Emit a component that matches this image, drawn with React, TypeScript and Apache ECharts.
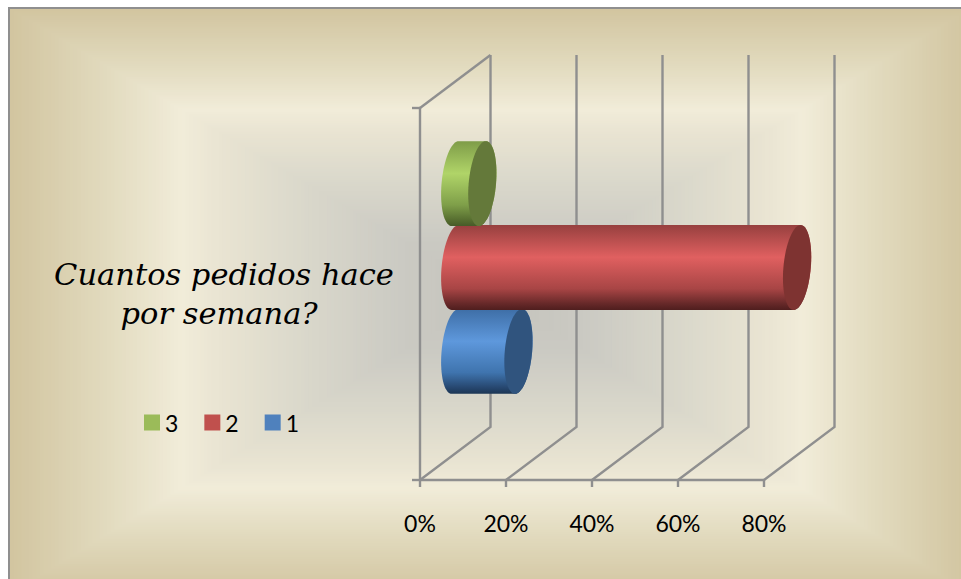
import React, { useEffect, useRef } from "react";
import * as echarts from "echarts";

const question = "Cuantos pedidos hace\npor semana? ";
const axisTicks = [0, 0.2, 0.4, 0.6, 0.8];
const legendOrder = ["3", "2", "1"];
const answerOne = [0.147];
const answerTwo = [0.795];
const answerThree = [0.063];

const DEPTH_X = 70.5;
const DEPTH_Y = 53;
const AXIS_GREY = "#8f8f8f";
const SERIF = "'DejaVu Serif', serif";
const SANS = "Lato, 'Open Sans', sans-serif";

type Palette = { swatch: string; face: string; stops: [number, string][] };

const blue: Palette = {
  swatch: "#4f81bd",
  face: "#30547e",
  stops: [[0, "#3e6ea6"], [0.38, "#5e98dc"], [0.75, "#3f74ae"], [0.93, "#26466e"], [1, "#1c3654"]],
};
const red: Palette = {
  swatch: "#c0504d",
  face: "#7e3331",
  stops: [[0, "#97403f"], [0.38, "#e06060"], [0.75, "#a84545"], [0.93, "#652828"], [1, "#4f1e1e"]],
};
const green: Palette = {
  swatch: "#9bbb59",
  face: "#64793a",
  stops: [[0, "#7e9c48"], [0.38, "#b0d468"], [0.75, "#7f9f49"], [0.93, "#566d30"], [1, "#475a28"]],
};

// Sheared half ellipse running from the top of a cylinder section to its bottom.
function halfEllipse(cx: number, cy: number, side: 1 | -1, rx: number, ry: number, shear: number) {
  const pts: number[][] = [];
  const steps = 36;
  for (let i = 0; i <= steps; i++) {
    const a = -Math.PI / 2 + (Math.PI * i) / steps;
    pts.push([cx + side * rx * Math.cos(a) - shear * Math.sin(a), cy + ry * Math.sin(a)]);
  }
  return pts;
}

function cylinderSeries(name: string, values: number[], palette: Palette, slot: number) {
  return {
    type: "custom",
    name,
    z: 3 + slot,
    itemStyle: { color: palette.swatch },
    encode: { x: 0, y: 1 },
    data: values.map((v) => [v, 0]),
    renderItem: (_params: any, api: any) => {
      const start = api.coord([0, 0]);
      const end = api.coord([api.value(0), 0]);
      const slotHeight = api.size([0, 1])[1] * 0.2255;
      const cy = start[1] - DEPTH_Y / 2 - slot * slotHeight;
      const x0 = start[0] + DEPTH_X / 2;
      const x1 = end[0] + DEPTH_X / 2;
      const ry = slotHeight / 2 + 0.5;
      const rx = 13.7;
      const shear = 3.5;
      const back = halfEllipse(x0, cy, -1, rx, ry, shear);
      const rightArc = halfEllipse(x1, cy, 1, rx, ry, shear).reverse();
      const leftArc = halfEllipse(x1, cy, -1, rx, ry, shear);
      return {
        type: "group",
        children: [
          {
            type: "polygon",
            shape: { points: [...back, ...rightArc] },
            style: {
              fill: {
                type: "linear",
                x: 0,
                y: 0,
                x2: 0,
                y2: 1,
                colorStops: palette.stops.map(([offset, color]) => ({ offset, color })),
              },
            },
          },
          {
            type: "polygon",
            shape: { points: [...leftArc, ...rightArc] },
            style: { fill: palette.face },
          },
        ],
      };
    },
  };
}

// Floor diagonals and back-wall uprights, one pair per axis tick.
const wallSeries = {
  type: "custom",
  name: "walls",
  silent: true,
  z: 1,
  encode: { x: 0 },
  data: axisTicks.map((t) => [t]),
  renderItem: (params: any, api: any) => {
    const grid = params.coordSys;
    const x = api.coord([api.value(0), 0])[0];
    const bottom = grid.y + grid.height;
    return {
      type: "polyline",
      shape: {
        points: [
          [x, bottom],
          [x + DEPTH_X, bottom - DEPTH_Y],
          [x + DEPTH_X, grid.y - DEPTH_Y],
        ],
      },
      style: { stroke: AXIS_GREY, lineWidth: 2.4, fill: "none" },
    };
  },
};

// Top edge of the left wall, joining the value axis origin to the first upright.
const wallTopSeries = {
  type: "custom",
  name: "wallTop",
  silent: true,
  z: 1,
  encode: { x: 0 },
  data: [[axisTicks[0]]],
  renderItem: (params: any, api: any) => {
    const grid = params.coordSys;
    const x = api.coord([api.value(0), 0])[0];
    return {
      type: "line",
      shape: { x1: x, y1: grid.y, x2: x + DEPTH_X, y2: grid.y - DEPTH_Y },
      style: { stroke: AXIS_GREY, lineWidth: 2.4 },
    };
  },
};

function hexToRgb(hex: string) {
  return [1, 3, 5].map((i) => parseInt(hex.slice(i, i + 2), 16));
}

// Backdrop shaded from the panel's centre towards its edges in nested rectangles.
function backdrop() {
  const cx = 495;
  const cy = 294;
  const extentLeft = 485;
  const extentRight = 475;
  const extentTop = 285;
  const extentBottom = 300;
  const shades: [number, string][] = [
    [0, "#c4c3bc"],
    [0.2, "#cbcac3"],
    [0.4, "#dad8cb"],
    [0.57, "#e9e4d2"],
    [0.65, "#f1ecd9"],
    [0.8, "#e2dbbf"],
    [1, "#d2c5a0"],
  ];
  const colorAt = (t: number) => {
    let i = 0;
    while (i < shades.length - 2 && t > shades[i + 1][0]) i++;
    const [t0, c0] = shades[i];
    const [t1, c1] = shades[i + 1];
    const f = (t - t0) / (t1 - t0);
    const a = hexToRgb(c0);
    const b = hexToRgb(c1);
    return `rgb(${a.map((v, k) => Math.round(v + (b[k] - v) * f)).join(",")})`;
  };
  const rings: any[] = [
    { type: "rect", z: -20, silent: true, shape: { x: 8, y: 7, width: 953, height: 572 }, style: { fill: "#8f8f8f" } },
  ];
  const count = 130;
  for (let i = count; i >= 1; i--) {
    const t = i / count;
    rings.push({
      type: "rect",
      z: -19,
      silent: true,
      shape: {
        x: cx - extentLeft * t,
        y: cy - extentTop * t,
        width: (extentLeft + extentRight) * t,
        height: (extentTop + extentBottom) * t,
      },
      style: { fill: colorAt(t) },
    });
  }
  return rings;
}

export default function App() {
  const ref = useRef<HTMLDivElement>(null);

  useEffect(() => {
    if (!ref.current) return;
    const chart = echarts.init(ref.current, undefined, { renderer: "svg" });
    chart.setOption({
      animation: false,
      graphic: backdrop(),
      grid: { left: 420, top: 108, width: 344, height: 372, containLabel: false },
      legend: {
        data: legendOrder,
        left: 139,
        top: 406,
        icon: "rect",
        itemWidth: 16,
        itemHeight: 16,
        itemGap: 26,
        textStyle: { fontFamily: SANS, fontSize: 23, color: "#000" },
      },
      xAxis: {
        type: "value",
        min: 0,
        max: 0.8,
        interval: 0.2,
        splitLine: { show: false },
        axisLine: { show: true, lineStyle: { color: AXIS_GREY, width: 2.4 } },
        axisTick: { show: true, length: 7, lineStyle: { color: AXIS_GREY, width: 2.4 } },
        axisLabel: {
          margin: 31,
          fontFamily: SANS,
          fontSize: 23,
          color: "#000",
          formatter: (v: number) => `${Math.round(v * 100)}%`,
        },
      },
      yAxis: {
        type: "category",
        data: [question],
        axisLine: { show: true, lineStyle: { color: AXIS_GREY, width: 2.4 } },
        axisTick: { show: true, length: 8, lineStyle: { color: AXIS_GREY, width: 2.4 } },
        axisLabel: {
          margin: 196,
          align: "center",
          fontFamily: SERIF,
          fontStyle: "italic",
          fontSize: 30.5,
          lineHeight: 39,
          color: "#000",
        },
      },
      series: [
        wallSeries,
        wallTopSeries,
        cylinderSeries("1", answerOne, blue, -1),
        cylinderSeries("2", answerTwo, red, 0),
        cylinderSeries("3", answerThree, green, 1),
      ],
    });
    return () => chart.dispose();
  }, []);

  return <div ref={ref} style={{ position: "absolute", left: 0, top: 0, width: 961, height: 579 }} />;
}
